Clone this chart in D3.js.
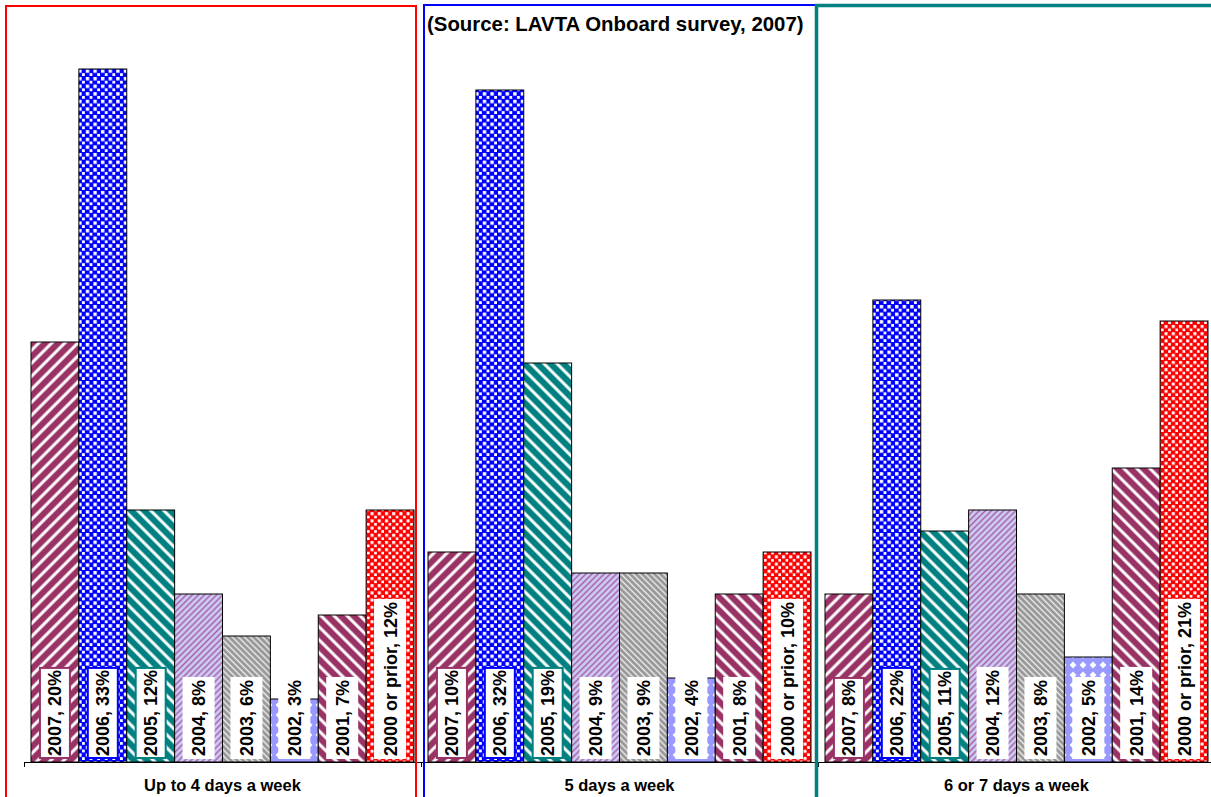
<!DOCTYPE html>
<html>
<head>
<meta charset="utf-8">
<script src="https://cdn.jsdelivr.net/npm/d3@7"></script>
<style>
  html, body { margin: 0; padding: 0; background: #fff; }
  svg { display: block; font-family: Arial, "Liberation Sans", sans-serif; }
</style>
</head>
<body>
<svg id="chart" width="1211" height="797"></svg>
<script>
// Frequency of riding, split by year the rider started using LAVTA
const groups = ["Up to 4 days a week", "5 days a week", "6 or 7 days a week"];
const years = ["2007", "2006", "2005", "2004", "2003", "2002", "2001", "2000 or prior"];
const upTo4Days = [20, 33, 12, 8, 6, 3, 7, 12];
const fiveDays = [10, 32, 19, 9, 9, 4, 8, 10];
const sixOrSevenDays = [8, 22, 11, 12, 8, 5, 14, 21];
const sourceNote = "(Source: LAVTA Onboard survey, 2007)";

const seriesByGroup = [upTo4Days, fiveDays, sixOrSevenDays];

const svg = d3.select("#chart");
const baseY = 762;

// scales
const x0 = d3.scaleBand().domain(groups).range([24, 1215]).paddingInner(0).paddingOuter(0);
const x1 = d3.scaleBand().domain(years).range([7, x0.bandwidth() - 7]).paddingInner(0);
const y = d3.scaleLinear().domain([0, 36]).range([baseY, 6]);

// fill patterns, one per start year
const defs = svg.append("defs");

function stripes(id, bg, fg, period, width, angle, opacity) {
  const p = defs.append("pattern").attr("id", id)
    .attr("patternUnits", "userSpaceOnUse")
    .attr("width", period).attr("height", period)
    .attr("patternTransform", `rotate(${angle})`);
  p.append("rect").attr("width", period).attr("height", period).attr("fill", bg);
  p.append("rect").attr("x", (period - width) / 2).attr("width", width).attr("height", period)
    .attr("fill", fg).attr("fill-opacity", opacity == null ? 1 : opacity);
}
function dots(id, bg, size, tile, stagger) {
  const p = defs.append("pattern").attr("id", id)
    .attr("patternUnits", "userSpaceOnUse")
    .attr("width", tile).attr("height", tile);
  p.append("rect").attr("width", tile).attr("height", tile).attr("fill", bg);
  p.append("rect").attr("x", 1).attr("y", 1).attr("width", size).attr("height", size).attr("fill", "#fff");
  if (stagger) {
    p.append("rect").attr("x", 1 + tile / 2).attr("y", 1 + tile / 2)
      .attr("width", size).attr("height", size).attr("fill", "#fff");
  }
}
function diamonds(id, bg, tile, r) {
  const p = defs.append("pattern").attr("id", id)
    .attr("patternUnits", "userSpaceOnUse")
    .attr("width", tile).attr("height", tile);
  p.append("rect").attr("width", tile).attr("height", tile).attr("fill", bg);
  const c = tile / 2;
  p.append("path").attr("fill", "#fff")
    .attr("d", `M${c},${c - r}L${c + r},${c}L${c},${c + r}L${c - r},${c}Z`);
}

stripes("p2007", "#993366", "#ffffff", 9.2, 3, 45);
dots("p2006", "#0000ff", 3.4, 7.6, true);
stripes("p2005", "#008080", "#ffffff", 9.2, 3, -45);
stripes("p2004", "#ccccff", "#993366", 4.3, 1.5, 45, 0.7);
stripes("p2003", "#969696", "#ffffff", 4.3, 1.4, -45, 0.85);
diamonds("p2002", "#9999ff", 10, 3.4);
stripes("p2001", "#993366", "#ffffff", 9.2, 3, -45);
dots("p2000", "#ff0000", 3, 7.2, true);

const fills = ["url(#p2007)", "url(#p2006)", "url(#p2005)", "url(#p2004)",
               "url(#p2003)", "url(#p2002)", "url(#p2001)", "url(#p2000)"];
const labelBorders = ["#993366", "#0000ff", "#008080", null, null, null, null, null];

// bars
const gGroups = svg.selectAll("g.grp").data(groups).join("g")
  .attr("class", "grp")
  .attr("transform", d => `translate(${x0(d)},0)`);

gGroups.selectAll("rect.bar")
  .data((g, gi) => years.map((yr, i) => ({ yr, i, v: seriesByGroup[gi][i] })))
  .join("rect").attr("class", "bar")
  .attr("x", d => x1(d.yr))
  .attr("width", x1.bandwidth())
  .attr("y", d => y(d.v))
  .attr("height", d => y(0) - y(d.v))
  .attr("fill", d => fills[d.i])
  .attr("stroke", "#000").attr("stroke-width", 1);

// category axis with tick marks between groups
const xEdge = d3.scaleLinear().domain([0, 3]).range([24, 1215]);
svg.append("g")
  .attr("transform", `translate(0,${baseY})`)
  .call(d3.axisBottom(xEdge).tickValues([0, 1, 2, 3]).tickFormat("").tickSizeInner(5).tickSizeOuter(0))
  .call(g => g.select(".domain").attr("stroke", "#000"))
  .call(g => g.selectAll(".tick line").attr("stroke", "#000"));

// group titles
svg.selectAll("text.grpTitle").data(groups).join("text")
  .attr("class", "grpTitle")
  .attr("x", d => x0(d) + 7 + (x0.bandwidth() - 14) / 2)
  .attr("y", 791)
  .attr("text-anchor", "middle")
  .attr("font-size", "16.5px").attr("font-weight", "bold")
  .attr("fill", "#000")
  .text(d => d);

// data labels: rotated, boxed, sitting at the base of each bar
gGroups.each(function (g, gi) {
  const grp = d3.select(this);
  years.forEach((yr, i) => {
    const v = seriesByGroup[gi][i];
    const cx = x1(yr) + x1.bandwidth() / 2;
    const lab = grp.append("g");
    const box = lab.append("rect");
    const t = lab.append("text")
      .attr("font-size", "18px").attr("font-weight", "bold").attr("fill", "#000")
      .attr("text-anchor", "middle")
      .text(`${yr}, ${v}%`);
    const len = t.node().getComputedTextLength();
    const h = len + 6;
    const top = baseY - 3 - h;
    const cy = top + h / 2;
    t.attr("transform", `translate(${cx + 6.5},${cy}) rotate(-90)`);
    const border = labelBorders[i];
    if (border) {
      box.attr("x", cx - 15).attr("y", top + 1).attr("width", 30).attr("height", h - 2)
        .attr("fill", "#fff").attr("stroke", border).attr("stroke-width", 2);
    } else {
      box.attr("x", cx - 16).attr("y", top).attr("width", 32).attr("height", h)
        .attr("fill", "#fff");
    }
  });
});

// panel frames
svg.append("rect").attr("x", 6).attr("y", 6).attr("width", 410).attr("height", 820)
  .attr("fill", "none").attr("stroke", "#ff0000").attr("stroke-width", 2);
svg.append("rect").attr("x", 424).attr("y", 5).attr("width", 392).attr("height", 820)
  .attr("fill", "none").attr("stroke", "#0000ff").attr("stroke-width", 2);
svg.append("rect").attr("x", 816.5).attr("y", 5.5).attr("width", 420).attr("height", 820)
  .attr("fill", "none").attr("stroke", "#008080").attr("stroke-width", 3.5);

// source note
svg.append("text")
  .attr("x", 427).attr("y", 31)
  .attr("font-size", "20.4px").attr("font-weight", "bold").attr("fill", "#000")
  .text(sourceNote);
</script>
</body>
</html>
